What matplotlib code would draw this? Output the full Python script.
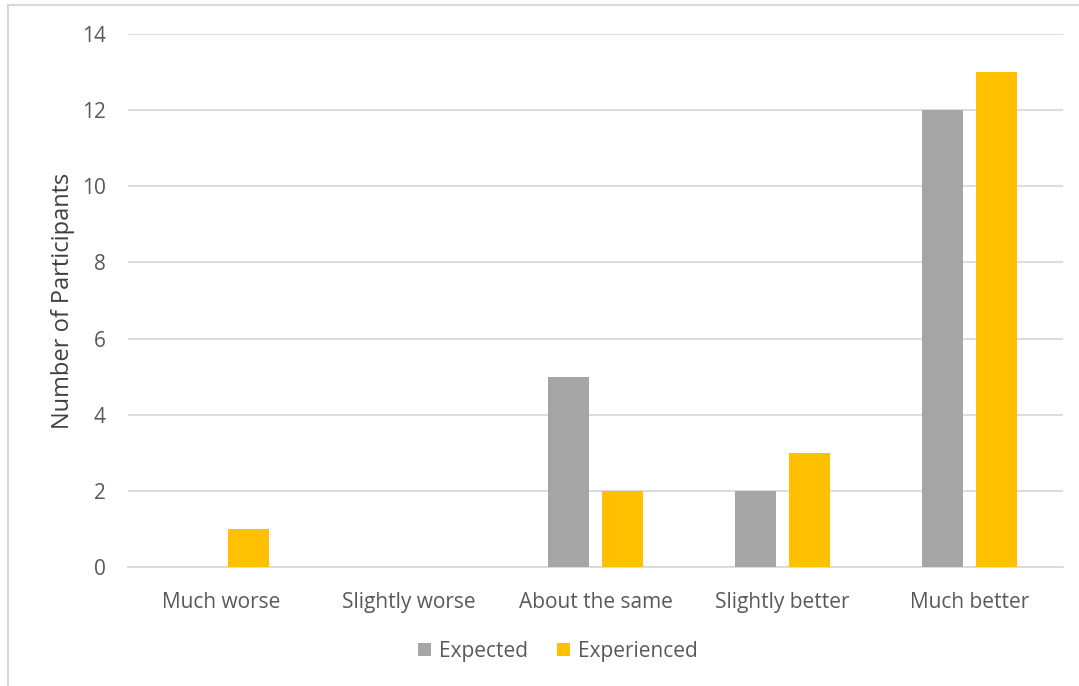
import numpy as np
import matplotlib.pyplot as plt
from matplotlib.lines import Line2D

categories = ["Much worse", "Slightly worse", "About the same", "Slightly better", "Much better"]
expected = [0, 0, 5, 2, 12]
experienced = [1, 0, 2, 3, 13]

plt.rcParams['font.family'] = ['Open Sans', 'DejaVu Sans']
text_col = '#595959'

fig = plt.figure(figsize=(10.79, 6.86), dpi=100)
ax = fig.add_axes([128 / 1079, 1 - 567 / 686, (1063 - 128) / 1079, (567 - 34) / 686])

x = np.arange(len(categories))
w = 0.22
off = 0.145
ax.bar(x - off, expected, w, color='#a5a5a5', label='Expected', zorder=3)
ax.bar(x + off, experienced, w, color='#ffc000', label='Experienced', zorder=3)

ax.set_xlim(-0.5, len(categories) - 0.5)
ax.set_ylim(0, 14)
ax.set_yticks(range(0, 15, 2))
ax.set_xticks(x)
ax.set_xticklabels(categories)
ax.grid(axis='y', color='#d9d9d9', linewidth=1.3, zorder=0)
for s in ['top', 'right', 'left']:
    ax.spines[s].set_visible(False)
ax.spines['bottom'].set_color('#d9d9d9')
ax.spines['bottom'].set_linewidth(1.3)
ax.tick_params(length=0, labelsize=15, colors=text_col)
ax.tick_params(axis='y', pad=16)
ax.tick_params(axis='x', pad=18)
ax.set_ylabel('Number of Participants', fontsize=17, color='#404040', labelpad=5)

fig.legend(loc='center', bbox_to_anchor=(558 / 1079, 1 - 651 / 686), ncol=2, frameon=False,
           fontsize=15, labelcolor=text_col, handlelength=0.6, handleheight=0.6,
           columnspacing=1.4, handletextpad=0.4)

# outer chart frame (left and top edges visible)
fig.add_artist(Line2D([8 / 1079, 8 / 1079], [0, 1 - 5 / 686], color='#d9d9d9', lw=1.5))
fig.add_artist(Line2D([8 / 1079, 1], [1 - 5 / 686, 1 - 5 / 686], color='#d9d9d9', lw=1.5))

fig.savefig('out.png', dpi=100)
